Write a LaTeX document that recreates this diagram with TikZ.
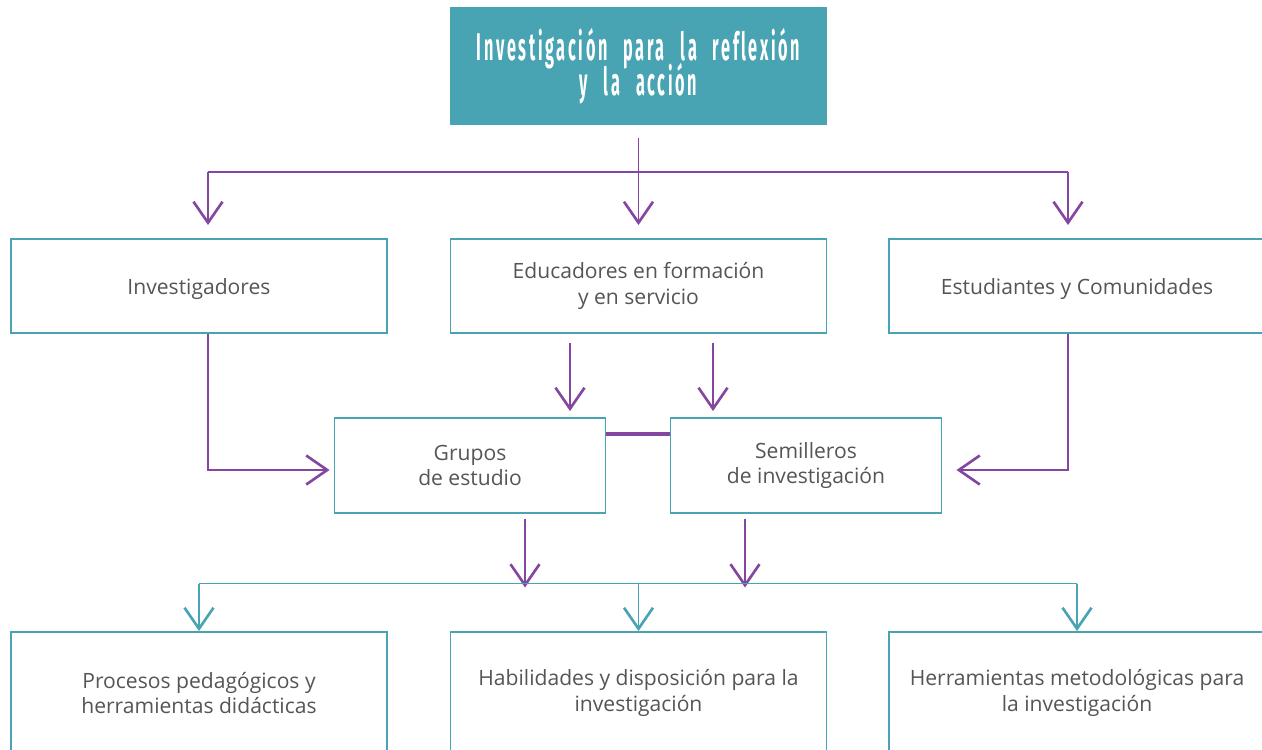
\documentclass[tikz,border=0pt]{standalone}
\usepackage{fontspec}
\setmainfont{Open Sans}
\newfontfamily\titlefont[FakeStretch=0.42, LetterSpace=7, WordSpace=2.4, Ligatures=NoCommon]{Fira Sans}
\usepackage{tikz}
\usetikzlibrary{
    arrows.meta,
    positioning
}
\definecolor{boxteal}{HTML}{48A3B3}
\definecolor{flowpurple}{HTML}{8446A0}
\definecolor{textgray}{HTML}{555555}
\newcommand{\titlestyle}{\titlefont\bfseries\fontsize{22}{20}\selectfont\lineskiplimit-10pt\relax}
\newcommand{\lowered}[1]{\raisebox{0pt}[\dimexpr\height+0.14cm\relax]{#1}}

\begin{document}
\begin{tikzpicture}[
            font=\fontsize{12}{14.7}\selectfont,
            headbox/.style={fill=boxteal, text=white, align=center, inner sep=0pt,
                            minimum width=7.54cm, minimum height=2.36cm,
                            font=\titlestyle},
            box/.style={draw=boxteal, line width=1.1pt, align=center, inner sep=0pt,
                        text=textgray, minimum width=7.52cm, minimum height=1.88cm},
            midbox/.style={box, minimum width=5.42cm, minimum height=1.9cm},
            lowbox/.style={box, minimum height=2.44cm},
            barb/.style={-{Straight Barb[length=0.42cm, width=0.58cm, line width=1.5pt]}},
            flow/.style={draw=flowpurple, line width=1.1pt},
            flowarr/.style={flow, barb},
            link/.style={draw=flowpurple, line width=2pt},
            branch/.style={draw=boxteal, line width=0.9pt},
            brancharr/.style={branch, barb}
        ]
            \useasboundingbox (0,0) rectangle (25.24,-14.98);

            % title
            \node[headbox] (title) at (12.77,-1.32)
                {Investigación para la reflexión\\ y la acción};

            % first row
            \node[box] (inv) at (3.98,-5.72) {\lowered{Investigadores}};
            \node[box] (edu) at (12.77,-5.72)
                {Educadores en formación\\ y en servicio};
            \node[box] (est) at (21.54,-5.72) {\lowered{Estudiantes y Comunidades}};

            % second row
            \node[midbox] (grupos) at (9.40,-9.31) {Grupos\\ de estudio};
            \node[midbox] (semi) at (16.12,-9.31) {Semilleros\\ de investigación};

            % third row
            \node[lowbox] (proc) at (3.98,-13.86)
                {Procesos pedagógicos y\\ herramientas didácticas};
            \node[lowbox] (hab) at (12.77,-13.86)
                {Habilidades y disposición para la\\ investigación};
            \node[lowbox] (herr) at (21.54,-13.86)
                {Herramientas metodológicas para\\ la investigación};

            \coordinate (invdrop) at (4.16,-3.44);
            \coordinate (estdrop) at (21.36,-3.44);
            \coordinate (botsplit) at (12.77,-11.67);

            % purple connectors
            \draw[flow] (invdrop) -- (estdrop);
            \draw[flowarr, shorten <=0.26cm, shorten >=0.26cm] (title) -- (edu);
            \draw[flowarr, shorten >=0.26cm] (invdrop) -- (invdrop |- inv.north);
            \draw[flowarr, shorten >=0.26cm] (estdrop) -- (estdrop |- est.north);
            \draw[flowarr, shorten >=0.08cm] (invdrop |- inv.south) |- ([yshift=-0.09cm]grupos.west);
            \draw[flowarr, shorten >=0.28cm] (estdrop |- est.south) |- ([yshift=-0.09cm]semi.east);
            \draw[link] ([yshift=0.63cm]grupos.east) -- ([yshift=0.63cm]semi.west);
            \draw[flowarr, shorten <=0.18cm, shorten >=0.12cm]
                ([xshift=-1.37cm]edu.south) -- ([xshift=-1.37cm]edu.south |- grupos.north);
            \draw[flowarr, shorten <=0.18cm, shorten >=0.12cm]
                ([xshift=1.49cm]edu.south) -- ([xshift=1.49cm]edu.south |- semi.north);
            \draw[flowarr, shorten <=0.1cm, shorten >=-0.08cm]
                ([xshift=1.1cm]grupos.south) -- ([xshift=1.1cm]grupos.south |- botsplit);
            \draw[flowarr, shorten <=0.1cm, shorten >=-0.08cm]
                ([xshift=-1.22cm]semi.south) -- ([xshift=-1.22cm]semi.south |- botsplit);

            % teal connectors
            \draw[branch] (proc.north |- botsplit) -- (herr.north |- botsplit);
            \draw[brancharr] (proc.north |- botsplit) -- (proc.north);
            \draw[brancharr] (botsplit) -- (hab.north);
            \draw[brancharr] (herr.north |- botsplit) -- (herr.north);
        \end{tikzpicture}
\end{document}
